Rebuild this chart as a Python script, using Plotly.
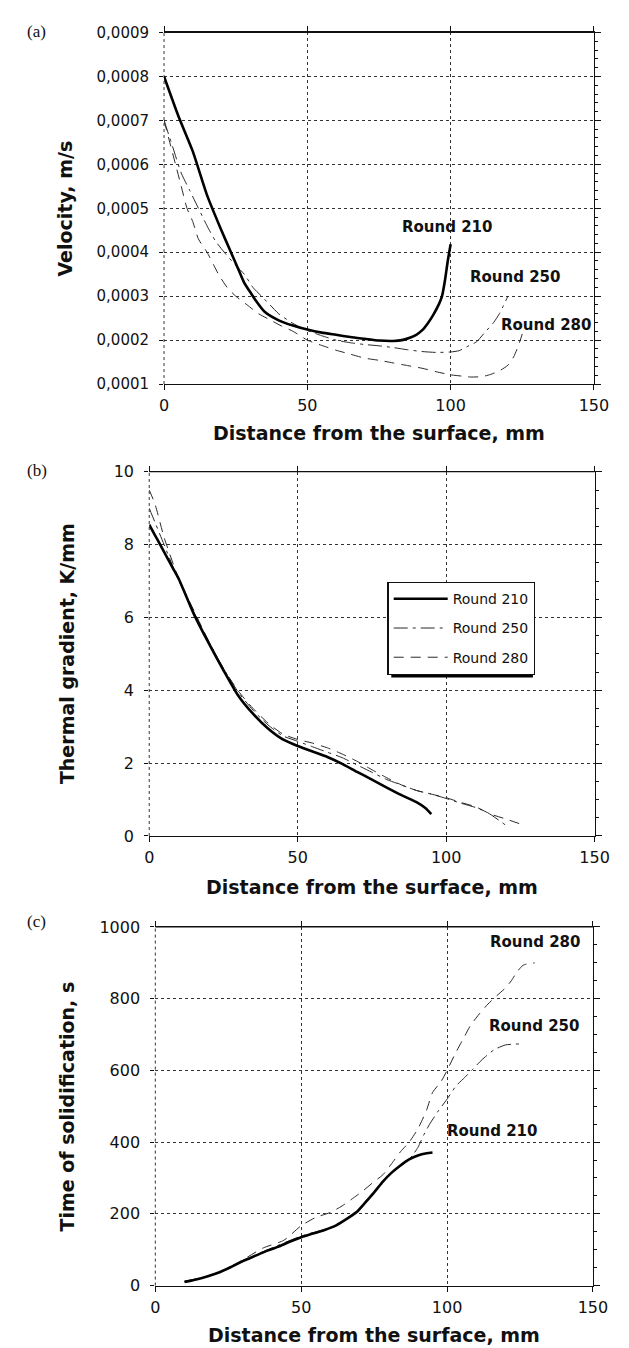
import plotly.graph_objects as go

W, H = 629, 1348

# ---------------- data ----------------
series_names = ["Round 210", "Round 250", "Round 280"]

# (a) velocity, m/s
a_x_210 = [0, 5, 10, 15, 20, 23, 26, 28, 30, 32, 35, 40, 45, 50, 55, 60, 65, 70, 75, 80, 83, 86, 88, 90, 92, 94, 96, 97, 98, 99, 100]
a_y_210 = [0.0008, 0.00071, 0.00063, 0.00053, 0.00045, 0.000405, 0.00036, 0.00033, 0.00031, 0.00029, 0.000265,
           0.000245, 0.000233, 0.000224, 0.000217, 0.000212, 0.000207, 0.000203, 0.000199, 0.000198, 0.0002,
           0.000206, 0.000212, 0.000222, 0.000238, 0.000258, 0.000283, 0.0003, 0.000335, 0.00038, 0.000418]
a_x_250 = [0, 3, 6, 9, 12, 15, 18, 21, 25, 28, 31, 34, 37, 40, 45, 50, 55, 60, 65, 70, 75, 80, 85, 90, 95, 100, 103, 106, 109, 112, 115, 117, 120]
a_y_250 = [0.0007, 0.00064, 0.00058, 0.00054, 0.0005, 0.00046, 0.000425, 0.0004, 0.00037, 0.00035, 0.00032, 0.0003,
           0.00028, 0.00026, 0.000238, 0.000222, 0.00021, 0.0002, 0.000194, 0.00019, 0.000187, 0.000183, 0.000178,
           0.000174, 0.000172, 0.000173, 0.000176, 0.000186, 0.000196, 0.000218, 0.00024, 0.00026, 0.0003]
a_x_280 = [0, 2, 4, 6, 8, 10, 12, 15, 19, 22, 25, 29, 33, 37, 41, 45, 50, 55, 60, 65, 70, 75, 80, 85, 90, 95, 100, 104, 107, 111, 114, 117, 120, 122, 123.5, 125]
a_y_280 = [0.0007, 0.00065, 0.0006, 0.00055, 0.0005, 0.00047, 0.00043, 0.0004, 0.00035, 0.00032, 0.0003, 0.00028,
           0.00026, 0.000246, 0.000232, 0.00022, 0.0002, 0.000188, 0.000177, 0.000168, 0.000159, 0.000154, 0.000148,
           0.000142, 0.000136, 0.000128, 0.000121, 0.000118, 0.000116, 0.000117, 0.000122, 0.00013, 0.000143,
           0.000162, 0.000185, 0.000214]

# (b) thermal gradient, K/mm
b_x_210 = [0, 2, 4, 6, 8, 10, 15, 20, 25, 30, 35, 40, 45, 50, 55, 60, 65, 70, 75, 80, 85, 90, 93, 95]
b_y_210 = [8.55, 8.25, 7.95, 7.65, 7.35, 7.05, 6.1, 5.3, 4.55, 3.85, 3.35, 2.95, 2.65, 2.47, 2.32, 2.17, 1.98, 1.76,
           1.55, 1.33, 1.12, 0.93, 0.77, 0.6]
b_x_250 = [0, 2, 5, 10, 15, 20, 25, 30, 35, 40, 45, 50, 55, 60, 65, 70, 75, 80, 85, 90, 95, 100, 105, 110, 114, 120]
b_y_250 = [9.0, 8.6, 8.0, 7.0, 6.15, 5.35, 4.6, 3.95, 3.45, 3.05, 2.75, 2.6, 2.45, 2.3, 2.15, 1.95, 1.75, 1.55, 1.4,
           1.25, 1.15, 1.03, 0.9, 0.78, 0.64, 0.3]
b_x_280 = [0, 2, 5, 10, 15, 20, 25, 30, 35, 40, 45, 50, 55, 60, 65, 70, 75, 80, 85, 90, 95, 100, 105, 110, 115, 120, 125]
b_y_280 = [9.5, 9.1, 8.2, 7.05, 6.2, 5.35, 4.6, 3.98, 3.5, 3.1, 2.8, 2.65, 2.55, 2.42, 2.25, 2.05, 1.82, 1.6, 1.4,
           1.25, 1.15, 1.05, 0.92, 0.8, 0.6, 0.47, 0.33]

# (c) time of solidification, s
c_x_210 = [10, 14, 18, 22, 26, 30, 34, 38, 42, 46, 50, 54, 58, 62, 66, 69, 72, 75, 78, 81, 84, 87, 90, 93, 95]
c_y_210 = [10, 17, 26, 37, 52, 68, 82, 96, 108, 122, 135, 145, 155, 168, 188, 205, 232, 260, 290, 315, 335, 352, 363, 369, 371]
c_x_250 = [10, 20, 30, 40, 50, 60, 66, 70, 74, 78, 82, 86, 88, 90, 92, 94, 97, 100, 103, 106, 108.4, 112, 116, 120, 125]
c_y_250 = [12, 30, 70, 105, 138, 162, 188, 215, 254, 290, 320, 345, 362, 385, 420, 450, 487, 520, 556, 580, 600, 630, 657, 671, 674]
c_x_280 = [10, 20, 30, 37, 44, 50, 55, 60, 64, 68, 71, 75, 78, 81, 84, 87, 90, 93, 95, 98, 100, 103, 106, 108, 111, 114, 117, 120, 122, 124, 126, 128, 130]
c_y_280 = [12, 30, 72, 105, 126, 167, 190, 204, 222, 245, 263, 290, 309, 340, 373, 400, 437, 490, 538, 570, 600, 650, 695, 725, 757, 785, 808, 830, 850, 875, 893, 898, 900]

x_ticks = [0, 50, 100, 150]
a_y_ticks = [0.0001, 0.0002, 0.0003, 0.0004, 0.0005, 0.0006, 0.0007, 0.0008, 0.0009]
b_y_ticks = [0, 2, 4, 6, 8, 10]
c_y_ticks = [0, 200, 400, 600, 800, 1000]

x_title = "Distance from the surface, mm"
y_titles = ["Velocity, m/s", "Thermal gradient, K/mm", "Time of solidification, s"]
panel_labels = ["(a)", "(b)", "(c)"]

# ---------------- layout helpers ----------------
def px(x):
    return x / W

def py(y):
    return 1 - y / H

FONT = "DejaVu Sans"
INK = "#111111"

panels = [
    dict(left=156, right=600, top=15.7, bottom=372.3, yr=[0.0001, 0.0009], yt=a_y_ticks, minor=0.00002, tfs=15,
         data=[(a_x_210, a_y_210), (a_x_250, a_y_250), (a_x_280, a_y_280)], title_y=422, ytitle_x=54, lab_y=15),
    dict(left=140.7, right=600.7, top=461.3, bottom=830.7, yr=[0, 10], yt=b_y_ticks, minor=0.5, tfs=16,
         data=[(b_x_210, b_y_210), (b_x_250, b_y_250), (b_x_280, b_y_280)], title_y=882, ytitle_x=56, lab_y=460),
    dict(left=147, right=599, top=923, bottom=1286.7, yr=[0, 1000], yt=c_y_ticks, minor=50, tfs=16,
         data=[(c_x_210, c_y_210), (c_x_250, c_y_250), (c_x_280, c_y_280)], title_y=1337, ytitle_x=56, lab_y=917),
]

styles = [
    dict(color="#000000", width=2.6, dash="solid"),
    dict(color="#2a2a2a", width=1, dash="14px,5px,3px,5px"),
    dict(color="#2a2a2a", width=1, dash="10px,7px"),
]

fig = go.Figure()
layout = dict(
    width=W, height=H, margin=dict(l=0, r=0, t=0, b=0),
    paper_bgcolor="white", plot_bgcolor="white",
    separators=",.",
    font=dict(family=FONT, color=INK),
    annotations=[], shapes=[],
)

for i, p in enumerate(panels):
    n = i + 1
    xa = "x" if n == 1 else f"x{n}"
    ya = "y" if n == 1 else f"y{n}"
    ra = f"y{n + 3}"
    xkey = "xaxis" if n == 1 else f"xaxis{n}"
    ykey = "yaxis" if n == 1 else f"yaxis{n}"
    rkey = f"yaxis{n + 3}"
    xdom = [px(p["left"]), px(p["right"])]
    ydom = [py(p["bottom"]), py(p["top"])]

    for k, (xs, ys) in enumerate(p["data"]):
        fig.add_trace(go.Scatter(
            x=xs, y=ys, mode="lines", name=series_names[k],
            line=dict(color=styles[k]["color"], width=styles[k]["width"], dash=styles[k]["dash"], shape="spline", smoothing=0.6),
            xaxis=xa, yaxis=(ra if k == 0 else ya), showlegend=(n == 2), legendgroup=f"g{k}",
            legendrank=k + 1, hoverinfo="skip",
        ))

    layout[xkey] = dict(
        domain=xdom, anchor=ya, range=[0, 150], tickvals=x_ticks, ticks="outside", ticklen=5,
        tickcolor=INK, showline=True, linecolor=INK, linewidth=1.3, mirror="ticks", zeroline=False,
        showgrid=True, gridcolor="#333333", gridwidth=1, griddash="dot",
        tickfont=dict(family=FONT, size=16, color=INK), ticklabelstandoff=2,
    )
    layout[ykey] = dict(
        domain=ydom, anchor=xa, range=p["yr"], tickvals=p["yt"], ticks="outside", ticklen=4,
        tickcolor=INK, showline=False, zeroline=False,
        showgrid=True, gridcolor="#333333", gridwidth=1, griddash="dot",
        tickfont=dict(family=FONT, size=p["tfs"], color=INK), ticklabelstandoff=7,
        tickformat=".4f" if n == 1 else "d",
    )
    layout[rkey] = dict(
        overlaying=ya, side="right", anchor=xa, range=p["yr"], tickmode="linear",
        tick0=p["yt"][0], dtick=p["yt"][1] - p["yt"][0], ticks="outside", ticklen=6, tickcolor=INK,
        showticklabels=False, showline=True, linecolor=INK, linewidth=1.3, showgrid=False, zeroline=False,
        minor=dict(dtick=p["minor"], ticks="outside", ticklen=3, tickcolor=INK, showgrid=False),
    )

    # frame: solid top and right edges, dotted left edge
    layout["shapes"].append(dict(type="line", xref=f"{xa} domain", yref=f"{ya} domain", x0=0, x1=1, y0=1, y1=1,
                                 line=dict(color=INK, width=1.1), layer="above"))
    layout["shapes"].append(dict(type="line", xref=f"{xa} domain", yref=f"{ya} domain", x0=0, x1=0, y0=0, y1=1,
                                 line=dict(color="#333333", width=1, dash="dot"), layer="below"))

    # axis titles and panel labels
    layout["annotations"].append(dict(
        text=x_title, xref="paper", yref="paper", x=px((p["left"] + p["right"]) / 2), y=py(p["title_y"]),
        xanchor="center", yanchor="middle", showarrow=False,
        font=dict(family="DejaVu Sans", size=19, color=INK, weight="bold"),
    ))
    layout["annotations"].append(dict(
        text=y_titles[i], xref="paper", yref="paper", x=px(p["ytitle_x"]), y=py((p["top"] + p["bottom"]) / 2),
        xanchor="center", yanchor="middle", showarrow=False, textangle=-90,
        font=dict(family="DejaVu Sans", size=19, color=INK, weight="bold"),
    ))
    layout["annotations"].append(dict(
        text=panel_labels[i], xref="paper", yref="paper", x=px(12), y=py(p["lab_y"]),
        xanchor="left", yanchor="middle", showarrow=False,
        font=dict(family="Liberation Serif", size=17, color=INK),
    ))

# curve labels
curve_labels = [
    ("Round 210", 448, 213), ("Round 250", 519, 264), ("Round 280", 550, 312),
    ("Round 280", 539, 938), ("Round 250", 538, 1023), ("Round 210", 495, 1130),
]
for txt, lx, ly in curve_labels:
    layout["annotations"].append(dict(
        text=txt, xref="paper", yref="paper", x=px(lx), y=py(ly), xanchor="center", yanchor="middle",
        showarrow=False, font=dict(family="DejaVu Sans", size=15, color=INK, weight="bold"),
    ))

# legend with drop shadow
leg_l, leg_t, leg_r, leg_b = 386.7, 573, 533, 666
layout["shapes"].append(dict(
    type="rect", xref="paper", yref="paper", x0=px(leg_l + 4), x1=px(leg_r + 4), y0=py(leg_b + 4), y1=py(leg_t + 4),
    fillcolor="#000000", line=dict(width=0), layer="above",
))
layout["legend"] = dict(
    x=px(leg_l), y=py(leg_t), xanchor="left", yanchor="top",
    bgcolor="white", bordercolor=INK, borderwidth=1.3,
    font=dict(family=FONT, size=14, color=INK), tracegroupgap=8,
    itemwidth=54,
)

fig.update_layout(**layout)
fig.write_html("out.html")
